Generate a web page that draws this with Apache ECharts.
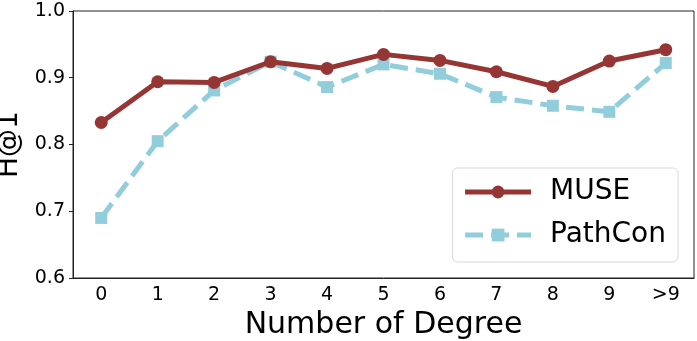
<!DOCTYPE html>
<html lang="en">
<head>
    <meta charset="UTF-8">
    <title>H@1 by degree</title>
    <script src="https://cdn.jsdelivr.net/npm/echarts@6/dist/echarts.min.js"></script>
    <style>
        html, body { margin: 0; padding: 0; background: #fff; }
        #chart { width: 697px; height: 341px; }
    </style>
</head>
<body>
<div id="chart"></div>
<script>
    // 数据
    const degrees = ['0', '1', '2', '3', '4', '5', '6', '7', '8', '9', '>9'];
    const museH1 = [0.833, 0.894, 0.893, 0.924, 0.914, 0.935, 0.926, 0.909, 0.887, 0.925, 0.942];
    const pathconH1 = [0.690, 0.805, 0.881, 0.924, 0.886, 0.920, 0.906, 0.871, 0.858, 0.849, 0.922];
    const yTicks = [0.6, 0.7, 0.8, 0.9, 1.0];

    const font = 'DejaVu Sans';
    const axisColor = '#222';

    const chart = echarts.init(document.getElementById('chart'));
    chart.setOption({
        animation: false,
        grid: {
            left: 73, right: 3, top: 11, bottom: 63,
            outerBoundsMode: 'none',
            containLabel: false,
            show: true, borderColor: axisColor, borderWidth: 1
        },
        legend: {
            right: 19,
            top: 168,
            orient: 'vertical',
            padding: [10, 12, 13, 10],
            itemGap: 15,
            itemWidth: 66,
            itemHeight: 16,
            backgroundColor: '#fff',
            borderColor: '#d8d8d8',
            borderWidth: 1,
            borderRadius: 5,
            lineStyle: {width: 5},
            textStyle: {fontFamily: font, fontSize: 28, color: '#000', padding: [0, 0, 0, 14]},
            data: ['MUSE', 'PathCon']
        },
        xAxis: {
            type: 'category',
            data: degrees,
            boundaryGap: true,
            name: 'Number of Degree',
            nameLocation: 'middle',
            nameGap: 30,
            nameTextStyle: {fontFamily: font, fontSize: 30, color: '#000'},
            axisLine: {lineStyle: {color: axisColor, width: 1}},
            axisTick: {alignWithLabel: true, length: 4, lineStyle: {color: axisColor}},
            axisLabel: {fontFamily: font, fontSize: 19, color: '#000', margin: 8},
            splitLine: {show: false}
        },
        yAxis: {
            type: 'value',
            min: yTicks[0],
            max: yTicks[yTicks.length - 1],
            interval: 0.1,
            name: 'H@1',
            nameLocation: 'middle',
            nameGap: 46,
            nameTextStyle: {fontFamily: font, fontSize: 28, color: '#000'},
            axisLine: {show: true, lineStyle: {color: axisColor, width: 1}},
            axisTick: {show: true, length: 4, lineStyle: {color: axisColor}},
            axisLabel: {
                fontFamily: font, fontSize: 19, color: '#000', margin: 8,
                formatter: v => v.toFixed(1)
            },
            splitLine: {show: false}
        },
        series: [
            {
                name: 'PathCon',
                type: 'line',
                data: pathconH1,
                symbol: 'rect',
                symbolSize: 12,
                z: 2,
                itemStyle: {color: '#92cddc'},
                lineStyle: {color: '#92cddc', width: 5, type: [18, 8]}
            },
            {
                name: 'MUSE',
                type: 'line',
                data: museH1,
                symbol: 'circle',
                symbolSize: 13,
                z: 3,
                itemStyle: {color: '#963634'},
                lineStyle: {color: '#963634', width: 5}
            }
        ]
    });
</script>
</body>
</html>
